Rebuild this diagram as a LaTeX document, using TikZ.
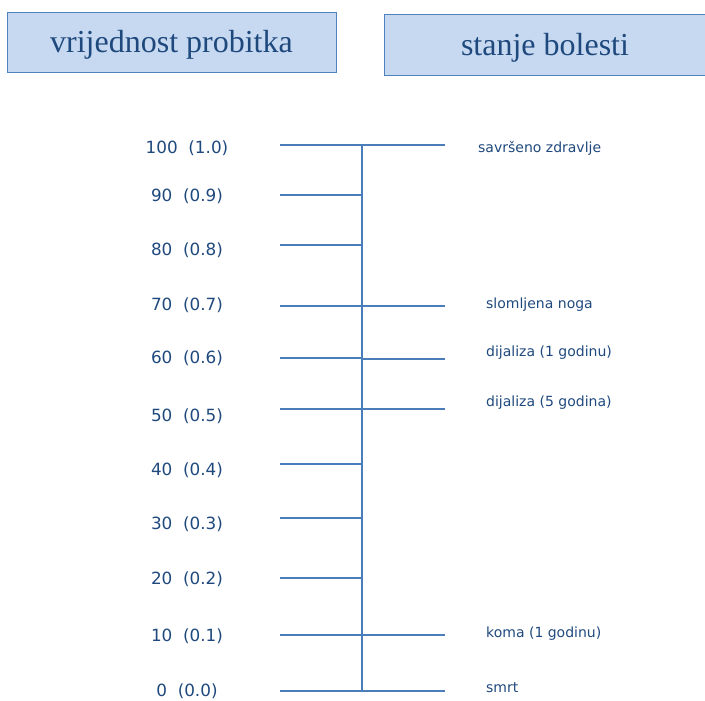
\documentclass[tikz,border=0pt]{standalone}
\usepackage{fontspec}
\setmainfont{Liberation Serif}
\newfontfamily\lblfont{DejaVu Sans}
\definecolor{boxfill}{HTML}{C6D9F1}
\definecolor{boxline}{HTML}{4F81BD}
\definecolor{txt}{HTML}{1F497D}
\definecolor{axis}{HTML}{4A7EBB}
\begin{document}
\begin{tikzpicture}[x=1pt,y=-1pt,
  header/.style={draw=boxline,fill=boxfill,line width=0.9pt,inner sep=0pt},
  headtxt/.style={text=txt,font=\fontsize{32}{36}\selectfont,inner sep=0pt},
  lefttxt/.style={text=txt,font=\lblfont\fontsize{16.8}{19}\selectfont,inner sep=0pt},
  righttxt/.style={text=txt,font=\lblfont\fontsize{14}{16}\selectfont,inner sep=0pt,anchor=west},
  tick/.style={draw=axis,line width=1.4pt}]
\useasboundingbox (0,0) rectangle (705,701);
\node[header,minimum width=329pt,minimum height=60pt] (hl) at (171.5,42) {};
\node[header,minimum width=322pt,minimum height=61pt] (hr) at (545,44.5) {};
\node[headtxt] (hlt) at ([yshift=-3pt]hl.center) {vrijednost probitka};
\node[headtxt] (hrt) at ([yshift=-3pt]hr.center) {stanje bolesti};
% spine
\coordinate (top) at (362,145);
\coordinate (bot) at (362,691);
\draw[tick] (top) -- (bot);
% left ticks
\foreach \v/\f/\y/\ly in {100/1.0/145/148, 90/0.9/195/196, 80/0.8/245/250, 70/0.7/306/305, 60/0.6/358/358, 50/0.5/409/416, 40/0.4/464/470, 30/0.3/518/524, 20/0.2/578/579, 10/0.1/635/636, 0/0.0/691/691}{
  \node[lefttxt] (L\v) at (187,\ly) {\v\ \ (\f)};
  \coordinate (a\v) at (280,\y);
  \coordinate (s\v) at (362,\y);
  \draw[tick] (a\v) -- (s\v);
}
% right ticks and labels
\foreach \n/\y/\ly/\lx/\t in {r100/145/148/478/savršeno zdravlje, r70/306/305/486/slomljena noga, r60/359/353/486/dijaliza (1 godinu), r50/409/403/486/dijaliza (5 godina), r10/635/634/486/koma (1 godinu), r0/691/688/486/smrt}{
  \coordinate (b\n) at (362,\y);
  \coordinate (e\n) at (445,\y);
  \draw[tick] (b\n) -- (e\n);
  \node[righttxt] (\n) at (\lx,\ly) {\t};
}
\end{tikzpicture}
\end{document}
